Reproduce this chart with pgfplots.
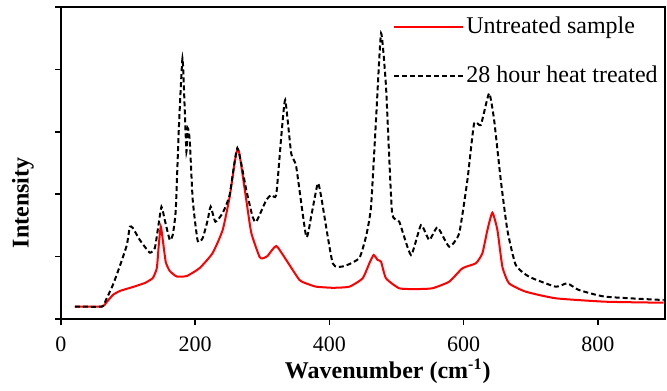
\documentclass[border=0pt]{standalone}
\usepackage{fontspec}
\setmainfont{Liberation Serif}
\usepackage{pgfplots}
\pgfplotsset{compat=1.18}
\begin{document}
\begin{tikzpicture}
\begin{axis}[
  at={(0pt,0pt)}, anchor=south west,
  scale only axis, width=302pt, height=156pt,
  xmin=0, xmax=900, ymin=0, ymax=5,
  xtick={0,200,...,800}, ytick={0,1,...,5}, yticklabels={},
  xtick pos=bottom, ytick pos=left, tick align=outside,
  major tick length=3pt,
  axis line style={line width=0.8pt},
  every tick/.style={line width=0.8pt, black},
  /pgf/number format/assume math mode=true,
  ticklabel style={font=\fontsize{11}{13}\selectfont},
  xticklabel style={yshift=-2.5pt},
  xlabel={\textbf{Wavenumber (cm\textsuperscript{-1})}},
  ylabel={\textbf{Intensity}},
  xlabel style={at={(axis description cs:0.541,0)}, anchor=center, yshift=-26pt, font=\fontsize{12}{14}\selectfont},
  ylabel style={at={(axis description cs:-0.063,0.372)}, anchor=center, rotate=0, font=\fontsize{12}{14}\selectfont},
  legend style={draw=none, fill=none, at={(axis description cs:0.5497,0.975)}, anchor=north west, inner sep=0pt, row sep=12.5pt, font=\fontsize{12}{14}\selectfont, nodes={inner sep=1pt}},
  legend cell align=left,
  legend image code/.code={\draw[#1] (0pt,0pt) -- (34.5pt,0pt);},
]
\addplot[red, line width=1pt, smooth, tension=0.3] coordinates {
(20.8,0.200) (61.0,0.200) (66.9,0.256) (77.3,0.385) (87.7,0.449) (107.1,0.513)
(124.9,0.577) (136.8,0.657) (142.8,0.817) (145.7,1.186) (148.7,1.482) (151.7,1.266)
(156.1,0.913) (162.1,0.769) (172.5,0.681) (187.4,0.689) (206.7,0.817) (226.0,1.058)
(240.9,1.426) (251.3,1.955) (258.7,2.500) (262.8,2.724) (266.2,2.628) (276.1,1.907)
(283.6,1.378) (295.9,0.994) (300.8,0.973) (307.8,1.010) (320.7,1.170) (335.6,0.946)
(355.4,0.625) (368,0.560) (380.2,0.518) (405,0.500) (429.7,0.518) (449.5,0.652) (459.5,0.893) (465.9,1.026)
(471.8,0.946) (476.9,0.918) (484.3,0.652) (504.1,0.492) (530,0.480) (553.2,0.492) (578.4,0.598)
(598.2,0.813) (618.1,0.893) (627.9,1.053) (635.4,1.426) (642.8,1.704) (650.3,1.426)
(657.7,0.838) (667.6,0.572) (692.5,0.438) (737.1,0.332) (811.5,0.277) (898.1,0.261)
};
\addlegendentry{Untreated sample}
\addplot[black, line width=1pt, dash pattern=on 2.5pt off 1.5pt, smooth, tension=0.3] coordinates {
(20.8,0.200) (61.0,0.200) (66.9,0.304) (77.3,0.545) (87.7,0.849) (98.1,1.186)
(102.6,1.479) (107.1,1.458) (117.5,1.266) (132.3,1.063) (139.8,1.138) (144.2,1.426)
(149.7,1.800) (154.6,1.587) (162.1,1.266) (166.5,1.346) (171.0,1.747) (175.5,3.029)
(181.0,4.178) (184.4,3.349) (186.9,2.681) (188.8,3.061) (191.8,2.869) (196.3,1.907)
(203.7,1.250) (211.2,1.298) (218.6,1.587) (223.0,1.800) (230.0,1.559) (240.9,1.699)
(251.3,1.987) (262.8,2.740) (276.1,2.067) (285.5,1.639) (291.0,1.559) (305.9,1.907)
(313.3,1.987) (320.7,1.987) (328.2,2.921) (334.1,3.510) (343.0,2.655) (350.5,2.441)
(365.4,1.319) (373.2,1.667) (382.6,2.175) (387.7,1.960) (404.9,0.893) (422.3,0.849)
(444.6,0.978) (455.0,1.346) (462.0,1.800) (469.4,3.189) (476.9,4.579) (484.3,3.723)
(493.2,1.720) (504.1,1.559) (521.5,1.026) (536.4,1.506) (548.7,1.266) (561.1,1.470)
(578.4,1.159) (593.3,1.373) (605.6,2.228) (615.6,3.136) (625.6,3.109) (637.9,3.617)
(645.4,3.189) (655.3,2.228) (665.1,1.426) (677.6,0.865) (697.4,0.678) (737.1,0.518)
(754.3,0.572) (771.7,0.465) (811.5,0.357) (898.1,0.304)
};
\addlegendentry{28 hour heat treated}
\end{axis}
\pgfresetboundingbox
\path[use as bounding box] (-30.5pt,-35.5pt) rectangle (303pt,159.5pt);
\end{tikzpicture}
\end{document}
